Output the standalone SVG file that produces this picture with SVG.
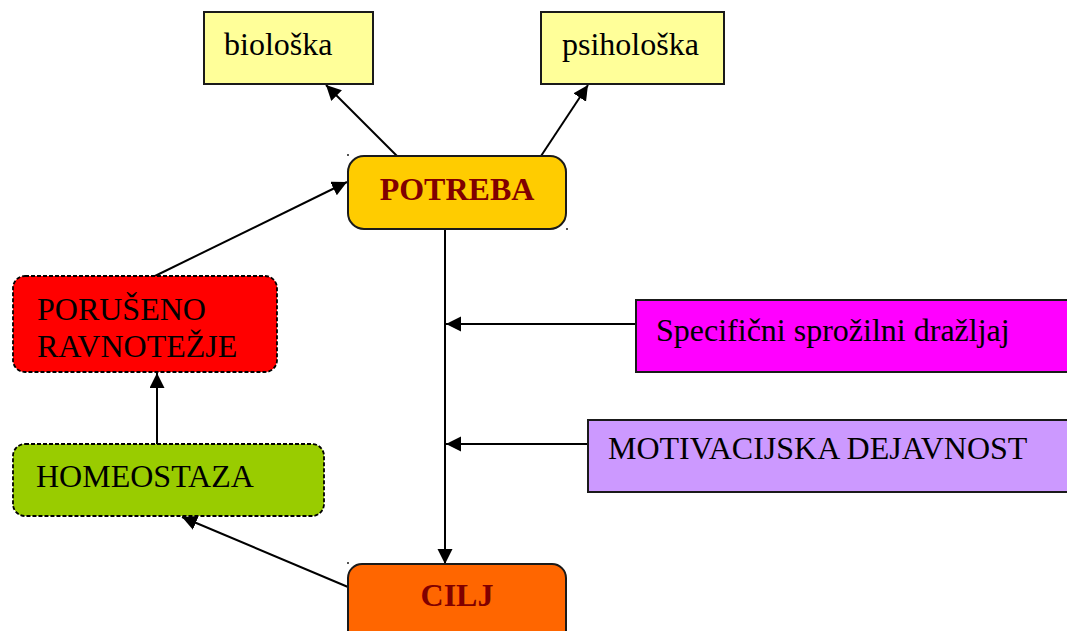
<svg xmlns="http://www.w3.org/2000/svg" width="1067" height="631" viewBox="0 0 1067 631">
<style>
.t{font-family:"Liberation Serif","Times New Roman",serif;font-size:32px;fill:#000}
.b{font-family:"Liberation Serif","Times New Roman",serif;font-size:32px;font-weight:bold;fill:#800000}
.box{stroke:#1a1a1a;stroke-width:2}
.dash{stroke:#000;stroke-width:1.8;stroke-dasharray:4 2}
.c{stroke:#000;stroke-width:2;fill:none}
.dot{fill:#555}
</style>
<defs>
<marker id="ah" markerWidth="16" markerHeight="16" refX="15" refY="7.5" orient="auto" markerUnits="userSpaceOnUse">
<path d="M0,0 L15,7.5 L0,15 Z" fill="#000"/>
</marker>
</defs>
<rect width="1067" height="631" fill="#fff"/>
<g id="connectors">
<line class="c" x1="397" y1="156" x2="326" y2="85" marker-end="url(#ah)"/>
<line class="c" x1="541" y1="156" x2="588" y2="85" marker-end="url(#ah)"/>
<line class="c" x1="155" y1="276" x2="347" y2="182" marker-end="url(#ah)"/>
<line class="c" x1="445" y1="229" x2="445" y2="564" marker-end="url(#ah)"/>
<line class="c" x1="636" y1="324" x2="446" y2="324" marker-end="url(#ah)"/>
<line class="c" x1="588" y1="444" x2="446" y2="444" marker-end="url(#ah)"/>
<line class="c" x1="157" y1="444" x2="157" y2="373" marker-end="url(#ah)"/>
<line class="c" x1="348" y1="587" x2="182" y2="517" marker-end="url(#ah)"/>
</g>
<g id="bioloska">
<rect class="box" x="204" y="12" width="169" height="72" fill="#FFFF99"/>
<text class="t" x="224" y="55">biološka</text>
</g>
<g id="psiholoska">
<rect class="box" x="541" y="12" width="183" height="72" fill="#FFFF99"/>
<text class="t" x="562" y="55">psihološka</text>
</g>
<g id="potreba">
<rect class="box" x="348" y="156" width="218" height="73" rx="16" ry="16" fill="#FFCC00"/>
<text class="b" x="457" y="200" text-anchor="middle">POTREBA</text>
<rect class="dot" x="347" y="154" width="2" height="2"/>
<rect class="dot" x="566" y="228" width="2" height="2"/>
</g>
<g id="poruseno">
<rect class="dash" x="13" y="276" width="264" height="96" rx="12" ry="12" fill="#FF0000"/>
<text class="t" x="37" y="320">PORUŠENO</text>
<text class="t" x="37" y="357">RAVNOTEŽJE</text>
</g>
<g id="homeostaza">
<rect class="dash" x="13" y="444" width="311" height="72" rx="12" ry="12" fill="#99CC00"/>
<text class="t" x="36" y="487">HOMEOSTAZA</text>
</g>
<g id="specificni">
<rect class="box" x="636" y="300" width="440" height="72" fill="#FF00FF"/>
<text class="t" x="656" y="341">Specifični sprožilni dražljaj</text>
</g>
<g id="motivacijska">
<rect class="box" x="588" y="420" width="488" height="72" fill="#CC99FF"/>
<text class="t" x="608" y="459">MOTIVACIJSKA DEJAVNOST</text>
</g>
<g id="cilj">
<rect class="box" x="348" y="564" width="218" height="80" rx="14" ry="14" fill="#FF6600"/>
<text class="b" x="457" y="606" text-anchor="middle">CILJ</text>
<rect class="dot" x="347" y="562" width="2" height="2"/>
</g>
</svg>
